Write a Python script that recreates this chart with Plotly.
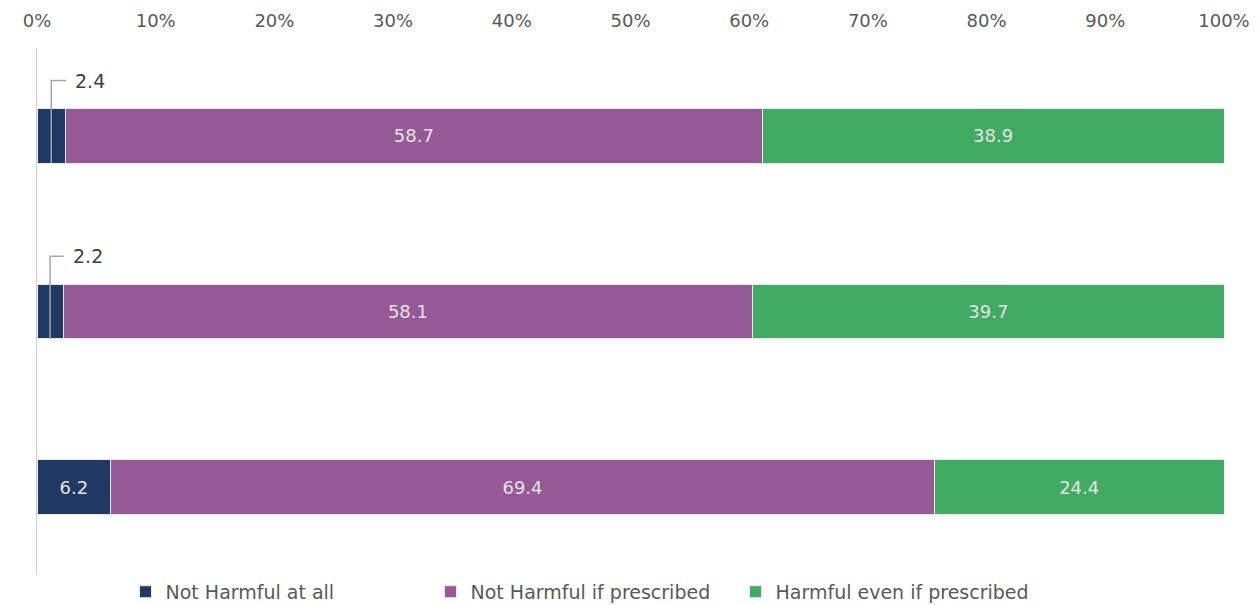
import plotly.graph_objects as go

categories = ["Group A", "Group B", "Group C"]
series_names = ["Not Harmful at all", "Not Harmful if prescribed", "Harmful even if prescribed"]
not_harmful_at_all = [2.4, 2.2, 6.2]
not_harmful_if_prescribed = [58.7, 58.1, 69.4]
harmful_even_if_prescribed = [38.9, 39.7, 24.4]
colors = ["#203864", "#955A96", "#42AB63"]
tick_vals = [0, 10, 20, 30, 40, 50, 60, 70, 80, 90, 100]
tick_text = ["0%", "10%", "20%", "30%", "40%", "50%", "60%", "70%", "80%", "90%", "100%"]

FONT = "DejaVu Sans"
BAR_W = 0.31
fig = go.Figure()
all_series = [not_harmful_at_all, not_harmful_if_prescribed, harmful_even_if_prescribed]
for name, vals, col in zip(series_names, all_series, colors):
    fig.add_trace(go.Bar(
        y=categories, x=vals, name=name, orientation="h",
        marker=dict(color=col, line=dict(color="#e8e8e8", width=1)),
        width=BAR_W,
        text=[f"{v:.1f}" if v >= 5 else "" for v in vals],
        textposition="inside", insidetextanchor="middle",
        textfont=dict(family=FONT, size=18, color="#E3E3E3"),
        hoverinfo="x+name",
    ))

# leader-line callouts for small values
for i, v in enumerate(not_harmful_at_all):
    if v < 5:
        xm = v / 2
        y_bot = i + BAR_W / 2
        y_top = i - 0.315
        x_end = v + 0.05
        fig.add_shape(type="path",
                      path=f"M {xm} {y_bot} L {xm} {y_top} L {x_end} {y_top}",
                      xref="x", yref="y", line=dict(color="#a6a6a6", width=1.5))
        fig.add_annotation(x=x_end + 0.6, y=y_top, xref="x", yref="y",
                           text=f"{v:.1f}", showarrow=False, xanchor="left",
                           yanchor="middle",
                           font=dict(family=FONT, size=19, color="#404040"))

fig.update_layout(
    width=1244, height=597,
    paper_bgcolor="white", plot_bgcolor="white",
    barmode="stack",
    margin=dict(l=29, r=28, t=40, b=30, autoexpand=False),
    showlegend=True,
    legend=dict(orientation="h", x=0.46, xanchor="center", y=-0.032, yanchor="middle",
                font=dict(family=FONT, size=19, color="#595959"),
                entrywidth=260, entrywidthmode="pixels",
                traceorder="normal", itemclick=False),
    xaxis=dict(range=[0, 100], side="top", tickvals=tick_vals, ticktext=tick_text,
               showgrid=False, zeroline=False, showline=False,
               tickfont=dict(family=FONT, size=18, color="#595959"),
               ticklabelstandoff=16),
    yaxis=dict(categoryorder="array", categoryarray=categories,
               range=[2.5, -0.5], showticklabels=False, showgrid=False,
               zeroline=False, showline=True, linecolor="#d0d0d0", linewidth=1),
)
fig.write_html("out.html")
